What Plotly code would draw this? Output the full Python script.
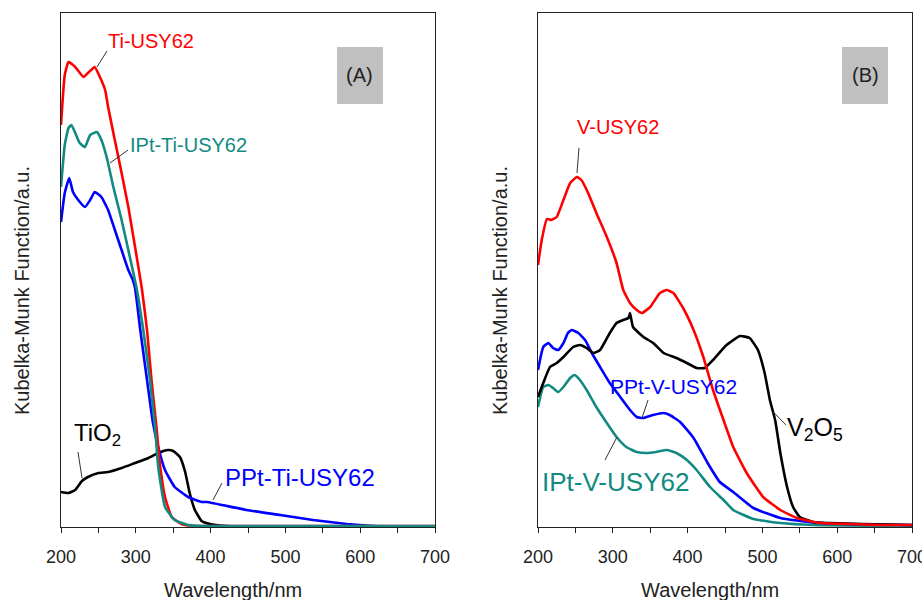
import plotly.graph_objects as go

# ---------------- Panel A: Ti samples ----------------
wl_ti_usy = [200, 205, 210, 219, 230, 236, 245, 252, 259, 263, 270, 281, 290, 299,
             308, 315, 321, 328, 332, 339, 348, 361, 379, 400, 500, 600, 700]
km_ti_usy = [4.02, 4.52, 4.65, 4.60, 4.50, 4.54, 4.60, 4.50, 4.37, 4.20, 3.94, 3.54,
             3.20, 2.80, 2.39, 1.97, 1.47, 0.97, 0.64, 0.30, 0.10, 0.03, 0.01, 0.01,
             0.01, 0.01, 0.01]

wl_ipt_ti = [200, 205, 210, 214, 225, 232, 239, 248, 254, 261, 270, 281, 290, 301,
             310, 319, 326, 330, 339, 352, 370, 389, 450, 550, 700]
km_ipt_ti = [3.40, 3.82, 3.99, 4.02, 3.84, 3.80, 3.92, 3.95, 3.87, 3.70, 3.40, 3.07,
             2.77, 2.39, 1.97, 1.47, 0.97, 0.60, 0.20, 0.07, 0.02, 0.01, 0.01, 0.01,
             0.01]

wl_ppt_ti = [200, 205, 211, 216, 223, 232, 239, 245, 254, 263, 272, 281, 290, 296,
             299, 306, 315, 323, 330, 339, 352, 370, 388, 395, 448, 493, 537, 582,
             617, 644, 700]
km_ppt_ti = [3.05, 3.34, 3.49, 3.35, 3.27, 3.20, 3.27, 3.35, 3.30, 3.17, 2.97, 2.77,
             2.57, 2.47, 2.39, 1.97, 1.47, 1.04, 0.80, 0.57, 0.40, 0.30, 0.25, 0.25,
             0.17, 0.12, 0.07, 0.03, 0.01, 0.0, 0.0]

wl_tio2 = [200, 210, 219, 228, 236, 250, 263, 281, 299, 317, 330, 343, 350, 359,
           366, 372, 379, 388, 399, 421, 448, 550, 700]
km_tio2 = [0.35, 0.34, 0.37, 0.46, 0.50, 0.54, 0.55, 0.59, 0.64, 0.69, 0.74, 0.77,
           0.76, 0.70, 0.55, 0.34, 0.17, 0.06, 0.03, 0.01, 0.0, 0.0, 0.0]

# ---------------- Panel B: V samples ----------------
wl_v_usy = [200, 205, 212, 218, 225, 234, 243, 252, 258, 267, 278, 292, 305, 314,
            323, 332, 339, 350, 363, 372, 381, 394, 408, 421, 434, 448, 461, 479,
            501, 524, 546, 577, 613, 657, 700]
km_v_usy = [2.62, 2.87, 3.08, 3.07, 3.10, 3.27, 3.44, 3.50, 3.47, 3.34, 3.14, 2.90,
            2.64, 2.37, 2.24, 2.17, 2.14, 2.20, 2.34, 2.37, 2.34, 2.19, 1.97, 1.70,
            1.37, 1.07, 0.80, 0.54, 0.30, 0.17, 0.09, 0.04, 0.03, 0.02, 0.02]

wl_v2o5 = [200, 207, 216, 225, 234, 247, 256, 265, 274, 283, 296, 305, 314, 321,
           323, 327, 341, 354, 368, 385, 399, 412, 423, 434, 452, 470, 483, 494,
           503, 510, 517, 524, 533, 541, 550, 568, 590, 634, 700]
km_v2o5 = [1.30, 1.44, 1.60, 1.64, 1.70, 1.80, 1.82, 1.79, 1.74, 1.77, 1.94, 2.04,
           2.07, 2.09, 2.14, 2.00, 1.90, 1.84, 1.74, 1.69, 1.64, 1.59, 1.59, 1.67,
           1.82, 1.91, 1.89, 1.77, 1.54, 1.27, 1.07, 0.74, 0.40, 0.20, 0.10, 0.05,
           0.04, 0.03, 0.02]

wl_ppt_v = [200, 207, 214, 220, 227, 234, 240, 245, 254, 263, 272, 283, 296, 310,
            323, 332, 341, 354, 368, 376, 390, 408, 426, 443, 461, 488, 524, 568,
            613, 700]
km_ppt_v = [1.57, 1.80, 1.84, 1.79, 1.77, 1.84, 1.94, 1.97, 1.94, 1.87, 1.74, 1.60,
            1.44, 1.30, 1.17, 1.10, 1.09, 1.12, 1.14, 1.12, 1.05, 0.89, 0.65, 0.45,
            0.35, 0.19, 0.09, 0.045, 0.03, 0.02]

wl_ipt_v = [200, 207, 214, 220, 227, 234, 243, 249, 256, 265, 278, 292, 305, 318,
            332, 345, 358, 372, 385, 399, 412, 430, 448, 461, 488, 524, 568, 700]
km_ipt_v = [1.20, 1.40, 1.42, 1.39, 1.35, 1.40, 1.49, 1.52, 1.47, 1.37, 1.20, 1.04,
            0.90, 0.80, 0.75, 0.74, 0.75, 0.77, 0.74, 0.67, 0.57, 0.40, 0.27, 0.17,
            0.08, 0.04, 0.02, 0.01]

# Axis ticks: labelled every 100 nm, minor marks in between
tick_vals = [200, 300, 400, 500, 600, 700]
tick_text = ["200", "300", "400", "500", "600", "700"]
minor_vals = [250, 350, 450, 550, 650]

RED = "#ff0000"
BLUE = "#0000ff"
TEAL = "#118a82"
BLACK = "#000000"
FONT = "Arial, 'Liberation Sans', sans-serif"

fig = go.Figure()

panel_a = [
    (wl_tio2, km_tio2, BLACK, "TiO2"),
    (wl_ppt_ti, km_ppt_ti, BLUE, "PPt-Ti-USY62"),
    (wl_ti_usy, km_ti_usy, RED, "Ti-USY62"),
    (wl_ipt_ti, km_ipt_ti, TEAL, "IPt-Ti-USY62"),
]
panel_b = [
    (wl_ipt_v, km_ipt_v, TEAL, "IPt-V-USY62"),
    (wl_ppt_v, km_ppt_v, BLUE, "PPt-V-USY62"),
    (wl_v2o5, km_v2o5, BLACK, "V2O5"),
    (wl_v_usy, km_v_usy, RED, "V-USY62"),
]
for xs, ys, col, name in panel_a:
    fig.add_trace(go.Scatter(x=xs, y=ys, mode="lines", name=name,
                             line=dict(color=col, width=2.6, shape="spline", smoothing=0.4),
                             xaxis="x", yaxis="y"))
for xs, ys, col, name in panel_b:
    fig.add_trace(go.Scatter(x=xs, y=ys, mode="lines", name=name,
                             line=dict(color=col, width=2.6, shape="spline", smoothing=0.4),
                             xaxis="x2", yaxis="y2"))

W, H = 922, 600
x_common = dict(range=[200, 700], tickmode="array", tickvals=tick_vals, ticktext=tick_text,
                ticks="outside", ticklen=5, tickwidth=1.2, tickcolor="#222",
                minor=dict(tickmode="array", tickvals=minor_vals, ticks="outside",
                           ticklen=5, tickwidth=1.2, tickcolor="#222", showgrid=False),
                showline=True, linecolor="#222", linewidth=1.4, mirror=True,
                showgrid=False, zeroline=False, ticklabelstandoff=8, automargin=False,
                ticklabeloverflow="allow",
                tickfont=dict(family=FONT, size=18, color="#222"))
y_common = dict(range=[0, 5.14], showticklabels=False, ticks="", automargin=False,
                showline=True, linecolor="#222", linewidth=1.4, mirror=True,
                showgrid=False, zeroline=False)

fig.update_layout(
    width=W, height=H, autosize=False,
    margin=dict(l=0, r=0, t=0, b=0, pad=0, autoexpand=False),
    paper_bgcolor="white", plot_bgcolor="white",
    showlegend=False,
    xaxis=dict(domain=[61 / W, 435 / W], anchor="y", **x_common),
    yaxis=dict(domain=[73 / H, 587 / H], anchor="x", **y_common),
    xaxis2=dict(domain=[538 / W, 912 / W], anchor="y2", **x_common),
    yaxis2=dict(domain=[73 / H, 587 / H], anchor="x2", **y_common),
)

ann = []
shapes = []

# Axis titles
for xc in (233, 710):
    ann.append(dict(text="Wavelength/nm", xref="paper", yref="paper",
                    x=xc / W, y=(H - 590) / H, xanchor="center", yanchor="middle",
                    showarrow=False, font=dict(family=FONT, size=20, color="#222")))
for xc in (22, 500):
    ann.append(dict(text="Kubelka-Munk Function/a.u.", xref="paper", yref="paper",
                    x=xc / W, y=(H - 291) / H, xanchor="center", yanchor="middle",
                    textangle=-90, showarrow=False,
                    font=dict(family=FONT, size=20, color="#222")))

# Panel tags in grey boxes
for xr, yr, x0, x1, xt, tag in (("x", "y", 569, 630.5, 599.7, "(A)"),
                                 ("x2", "y2", 606.4, 667.9, 637.2, "(B)")):
    shapes.append(dict(type="rect", xref=xr, yref=yr, x0=x0, x1=x1, y0=4.23, y1=4.80,
                       fillcolor="#c0c0c0", line=dict(width=0), layer="below"))
    ann.append(dict(text=tag, xref=xr, yref=yr, x=xt, y=4.515, showarrow=False,
                    xanchor="center", yanchor="middle",
                    font=dict(family=FONT, size=20, color="#222")))

# Curve labels: (axis, text, x, y, colour, size)
labels = [
    ("x", "y", "Ti-USY62", 260.2, 4.86, RED, 20),
    ("x", "y", "IPt-Ti-USY62", 289.6, 3.82, TEAL, 20),
    ("x", "y", "TiO<sub>2</sub>", 214.7, 0.92, BLACK, 24),
    ("x", "y", "PPt-Ti-USY62", 416.6, 0.49, BLUE, 24),
    ("x2", "y2", "V-USY62", 249.5, 4.00, RED, 20),
    ("x2", "y2", "PPt-V-USY62", 293.6, 1.40, BLUE, 21),
    ("x2", "y2", "IPt-V-USY62", 202.7, 0.45, TEAL, 26),
    ("x2", "y2", "V<sub>2</sub>O<sub>5</sub>", 530.2, 0.98, BLACK, 25),
]
for xr, yr, txt, x, y, col, sz in labels:
    ann.append(dict(text=txt, xref=xr, yref=yr, x=x, y=y, showarrow=False,
                    xanchor="left", yanchor="middle",
                    font=dict(family=FONT, size=sz, color=col)))

# Leader lines from labels to curves
leaders = [
    ("x", "y", 261.5, 4.76, 248.1, 4.60),
    ("x", "y", 289.6, 3.77, 265.5, 3.64),
    ("x", "y", 222.7, 0.75, 228.1, 0.49),
    ("x", "y", 415.2, 0.44, 403.2, 0.27),
    ("x2", "y2", 254.8, 3.79, 252.1, 3.54),
    ("x2", "y2", 347.1, 1.27, 339.0, 1.09),
    ("x2", "y2", 305.6, 0.90, 289.6, 0.67),
    ("x2", "y2", 514.6, 1.15, 531.6, 1.02),
]
for xr, yr, x0, y0, x1, y1 in leaders:
    shapes.append(dict(type="line", xref=xr, yref=yr, x0=x0, y0=y0, x1=x1, y1=y1,
                       line=dict(color="#333", width=1)))

fig.update_layout(annotations=ann, shapes=shapes)
fig.write_html("out.html")
